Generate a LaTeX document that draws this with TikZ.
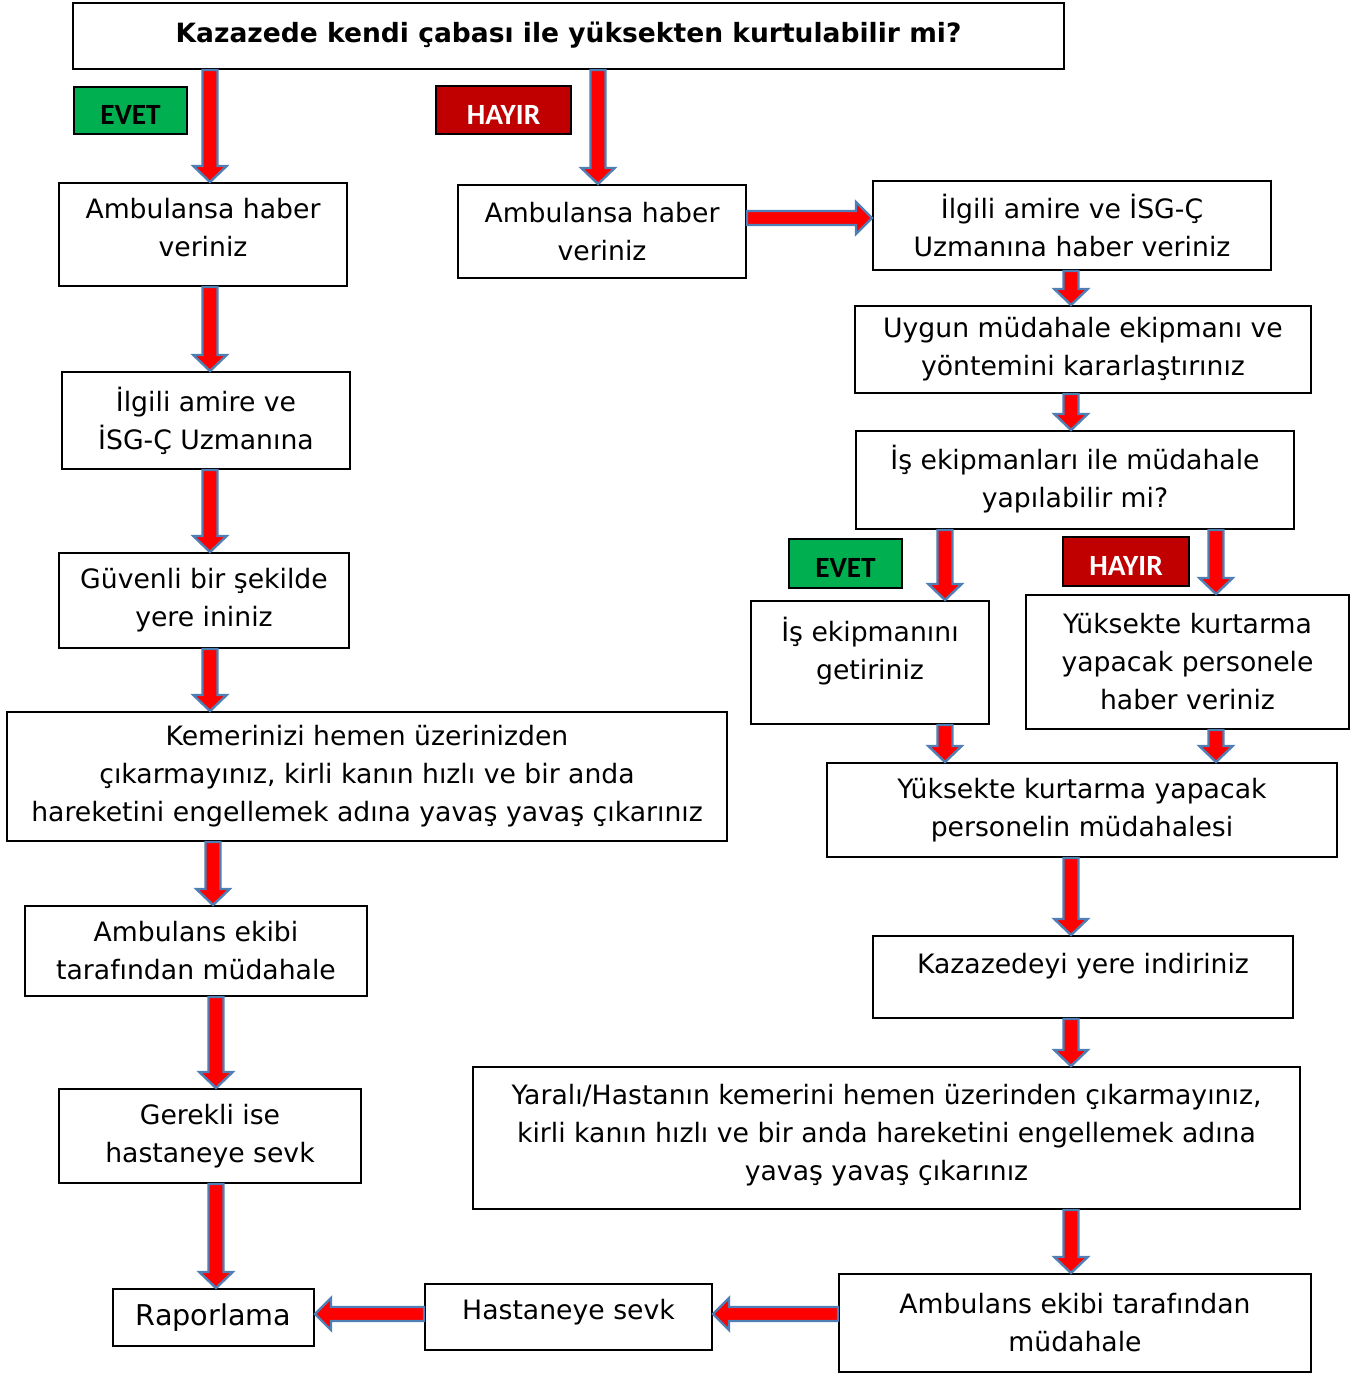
\documentclass[tikz,border=0pt]{standalone}
\usepackage{fontspec}
\setmainfont{DejaVu Sans}
\newfontfamily\lblfont{Carlito}
\usetikzlibrary{calc}
\definecolor{evetgreen}{HTML}{00B050}
\definecolor{hayirred}{HTML}{C00000}
\definecolor{arrfill}{HTML}{FF0000}
\definecolor{arrline}{HTML}{4F7FB5}
\tikzset{
  box/.style={draw=black, line width=1.5pt, fill=white, align=center, inner sep=0pt,
    font=\fontsize{20}{28.5}\selectfont},
  titlebox/.style={box, font=\fontsize{19.9}{22}\selectfont\bfseries},
  tag/.style={draw=black, line width=0.8pt, inner sep=0pt, text height=21pt, text depth=0pt,
    font=\lblfont\fontsize{22}{24}\selectfont\bfseries},
  barrow/.style={fill=arrfill, draw=arrline, line width=1.8pt, line join=miter}
}
% box from corners (px, y down)
\newcommand\boxnode[7][]{\node[box, minimum width={(#5-#3)*0.75pt}, minimum height={(#6-#4)*0.75pt}, #1] (#2) at ({(#3+#5)/2},{(#4+#6)/2}) {#7};}
\newcommand\arrdown[2]{\draw[barrow] let \p1=(#1), \p2=(#2) in (\x1-5.6pt,\y1) -- (\x1-5.6pt,\y2+12pt) -- (\x1-12.5pt,\y2+12pt) -- (\x1,\y2) -- (\x1+12.5pt,\y2+12pt) -- (\x1+5.6pt,\y2+12pt) -- (\x1+5.6pt,\y1) -- cycle;}
\newcommand\arrright[2]{\draw[barrow] let \p1=(#1), \p2=(#2) in (\x1,\y1-5.25pt) -- (\x2-12pt,\y1-5.25pt) -- (\x2-12pt,\y1-12pt) -- (\x2,\y1) -- (\x2-12pt,\y1+12pt) -- (\x2-12pt,\y1+5.25pt) -- (\x1,\y1+5.25pt) -- cycle;}
\newcommand\arrleft[2]{\draw[barrow] let \p1=(#1), \p2=(#2) in (\x1,\y1-5.25pt) -- (\x2+12pt,\y1-5.25pt) -- (\x2+12pt,\y1-12pt) -- (\x2,\y1) -- (\x2+12pt,\y1+12pt) -- (\x2+12pt,\y1+5.25pt) -- (\x1,\y1+5.25pt) -- cycle;}
\begin{document}
\begin{tikzpicture}[x=0.75pt, y=-0.75pt]
\useasboundingbox (0,0) rectangle (1367,1374);
% title
\node[titlebox, minimum width={(1064-73)*0.75pt}, minimum height={(69-3)*0.75pt}, text depth=6pt] (title) at ({(73+1064)/2},{(3+69)/2}) {Kazazede kendi çabası ile yüksekten kurtulabilir mi?};
% tags
\node[tag, fill=evetgreen, text=black, minimum width={113*0.75pt}, minimum height={47*0.75pt}] (evet1) at (130.5,110.5) {EVET};
\node[tag, fill=hayirred, text=white, minimum width={135*0.75pt}, minimum height={48*0.75pt}] (hayir1) at (503.5,110) {HAYIR};
\node[tag, fill=evetgreen, text=black, minimum width={113*0.75pt}, minimum height={49*0.75pt}] (evet2) at (845.5,563.5) {EVET};
\node[tag, fill=hayirred, text=white, minimum width={126*0.75pt}, minimum height={49*0.75pt}] (hayir2) at (1126,561.5) {HAYIR};
% left column
\boxnode[text depth=10pt]{lamb}{59}{183}{347}{286}{Ambulansa haber\\veriniz}
\boxnode{lilg}{62}{372}{350}{469}{İlgili amire ve\\İSG-Ç Uzmanına}
\boxnode{lguv}{59}{553}{349}{648}{Güvenli bir şekilde\\yere ininiz}
\boxnode{lkem}{7}{712}{727}{841}{Kemerinizi hemen üzerinizden\\çıkarmayınız, kirli kanın hızlı ve bir anda\\hareketini engellemek adına yavaş yavaş çıkarınız}
\boxnode{lamek}{25}{906}{367}{996}{Ambulans ekibi\\tarafından müdahale}
\boxnode{lger}{59}{1089}{361}{1183}{Gerekli ise\\hastaneye sevk}
\boxnode[font=\fontsize{21.5}{26}\selectfont]{rap}{113}{1289}{314}{1346}{Raporlama}
% middle / right
\boxnode{mamb}{458}{185}{746}{278}{Ambulansa haber\\veriniz}
\boxnode{rilg}{873}{181}{1271}{270}{İlgili amire ve İSG-Ç\\Uzmanına haber veriniz}
\boxnode[text depth=4pt]{ruyg}{855}{306}{1311}{393}{Uygun müdahale ekipmanı ve\\yöntemini kararlaştırınız}
\boxnode[text depth=6pt]{risek}{856}{431}{1294}{529}{İş ekipmanları ile müdahale\\yapılabilir mi?}
\boxnode[text depth=22pt]{rget}{751}{601}{989}{724}{İş ekipmanını\\getiriniz}
\boxnode{rpers}{1026}{595}{1349}{729}{Yüksekte kurtarma\\yapacak personele\\haber veriniz}
\boxnode{rmud}{827}{763}{1337}{857}{Yüksekte kurtarma yapacak\\personelin müdahalesi}
\boxnode[text depth=20pt]{rkaz}{873}{936}{1293}{1018}{Kazazedeyi yere indiriniz}
\boxnode[text depth=8pt]{ryar}{473}{1067}{1300}{1209}{Yaralı/Hastanın kemerini hemen üzerinden çıkarmayınız,\\kirli kanın hızlı ve bir anda hareketini engellemek adına\\yavaş yavaş çıkarınız}
\boxnode{ramb}{839}{1274}{1311}{1372}{Ambulans ekibi tarafından\\müdahale}
\boxnode[text depth=12pt]{hast}{425}{1284}{712}{1350}{Hastaneye sevk}
% column coordinates
\coordinate (cA) at (210,0);
\coordinate (cB) at (598,0);
\coordinate (cC) at (1071,0);
\coordinate (cD) at (945,0);
\coordinate (cE) at (1216,0);
\coordinate (cF) at (213,0);
\coordinate (cG) at (216,0);
\coordinate (rA) at (0,218);
\coordinate (rB) at (0,1314);
% arrows
\arrdown{title.south -| cA}{lamb.north -| cA}
\arrdown{title.south -| cB}{mamb.north -| cB}
\arrright{mamb.east |- rA}{rilg.west |- rA}
\arrdown{rilg.south -| cC}{ruyg.north -| cC}
\arrdown{ruyg.south -| cC}{risek.north -| cC}
\arrdown{risek.south -| cD}{rget.north -| cD}
\arrdown{risek.south -| cE}{rpers.north -| cE}
\arrdown{rget.south -| cD}{rmud.north -| cD}
\arrdown{rpers.south -| cE}{rmud.north -| cE}
\arrdown{rmud.south -| cC}{rkaz.north -| cC}
\arrdown{rkaz.south -| cC}{ryar.north -| cC}
\arrdown{ryar.south -| cC}{ramb.north -| cC}
\arrleft{ramb.west |- rB}{hast.east |- rB}
\arrleft{hast.west |- rB}{rap.east |- rB}
\arrdown{lamb.south -| cA}{lilg.north -| cA}
\arrdown{lilg.south -| cA}{lguv.north -| cA}
\arrdown{lguv.south -| cA}{lkem.north -| cA}
\arrdown{lkem.south -| cF}{lamek.north -| cF}
\arrdown{lamek.south -| cG}{lger.north -| cG}
\arrdown{lger.south -| cG}{rap.north -| cG}
\end{tikzpicture}
\end{document}
